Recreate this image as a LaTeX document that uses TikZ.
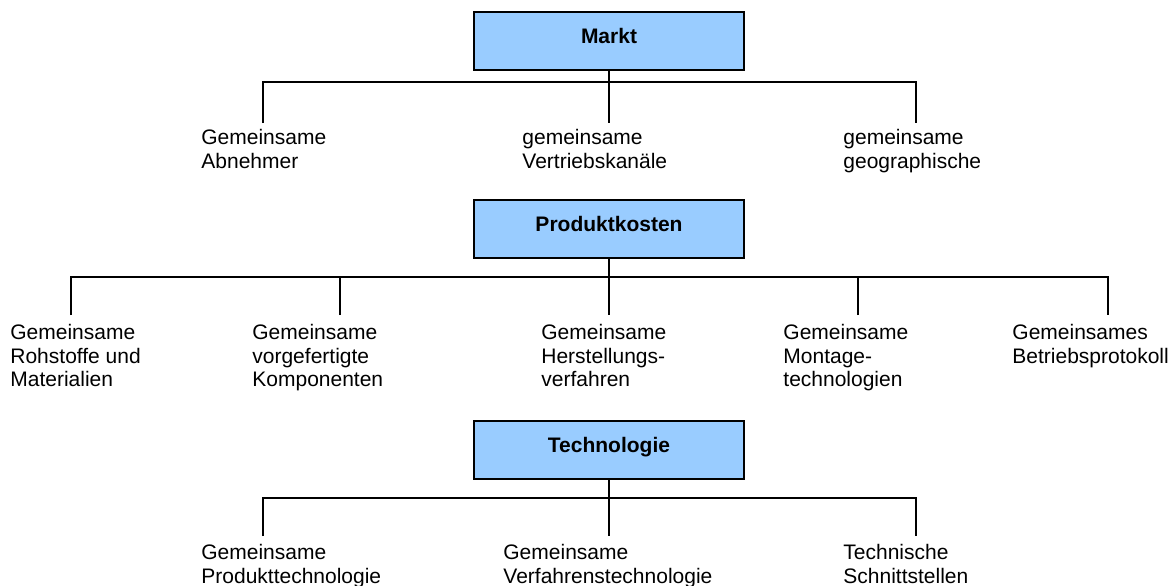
\documentclass[tikz,border=0pt]{standalone}
\usepackage{fontspec}
\setmainfont{Liberation Sans}
\usepackage{tikz}
\usetikzlibrary{positioning,calc}
\usepackage{xcolor}
\definecolor{BoxBlue}{RGB}{153,204,255}

\begin{document}
\begin{tikzpicture}[x=0.5pt,y=-0.5pt,
  head/.style={draw=black,fill=BoxBlue,line width=0.8pt,minimum width=135pt,
      minimum height=29pt,inner sep=0pt,text height=7.6pt,text depth=5.6pt,
      font=\fontsize{10.5}{11.8}\selectfont\bfseries},
  item/.style={anchor=north west,inner sep=0pt,align=left,
      font=\fontsize{10.5}{11.8}\selectfont\strut},
  branch/.style={line width=0.8pt,black}]
\useasboundingbox (0,0) rectangle (1171,585);

% Markt
\node[head] (markt) at (609,41) {Markt};
\node[item] (abnehmer) at (201,129) {Gemeinsame\\Abnehmer};
\node[item] (vertrieb) at (522,129) {gemeinsame\\Vertriebskanäle};
\node[item] (geo) at (843,129) {gemeinsame\\geographische};
\coordinate (mbar) at (609,82);
\coordinate (abnehmer-end) at (263,123);
\coordinate (vertrieb-end) at (609,123);
\coordinate (geo-end) at (916,123);
\draw[branch] (markt.south) -- (mbar);
\draw[branch] (abnehmer-end) |- (mbar) -| (geo-end);
\draw[branch] (mbar) -- (vertrieb-end);

% Produktkosten
\node[head] (kosten) at (609,229) {Produktkosten};
\node[item] (rohstoffe) at (10,324) {Gemeinsame\\Rohstoffe und\\Materialien};
\node[item] (komponenten) at (252,324) {Gemeinsame\\vorgefertigte\\Komponenten};
\node[item] (herstellung) at (541,324) {Gemeinsame\\Herstellungs-\\verfahren};
\node[item] (montage) at (783,324) {Gemeinsame\\Montage-\\technologien};
\node[item] (betrieb) at (1012,324) {Gemeinsames\\Betriebsprotokoll};
\coordinate (kbar) at (609,277);
\coordinate (rohstoffe-end) at (71,315);
\coordinate (komponenten-end) at (340,315);
\coordinate (herstellung-end) at (609,315);
\coordinate (montage-end) at (858,315);
\coordinate (betrieb-end) at (1108,315);
\draw[branch] (kosten.south) -- (kbar);
\draw[branch] (rohstoffe-end) |- (kbar) -| (betrieb-end);
\draw[branch] (komponenten-end) -- (komponenten-end |- kbar);
\draw[branch] (kbar) -- (herstellung-end);
\draw[branch] (montage-end) -- (montage-end |- kbar);

% Technologie
\node[head] (technik) at (609,450) {Technologie};
\node[item] (produkt) at (201,544) {Gemeinsame\\Produkttechnologie};
\node[item] (verfahren) at (503,544) {Gemeinsame\\Verfahrenstechnologie};
\node[item] (schnitt) at (843,544) {Technische\\Schnittstellen};
\coordinate (tbar) at (609,498);
\coordinate (produkt-end) at (263,536);
\coordinate (verfahren-end) at (609,536);
\coordinate (schnitt-end) at (916,536);
\draw[branch] (technik.south) -- (tbar);
\draw[branch] (produkt-end) |- (tbar) -| (schnitt-end);
\draw[branch] (tbar) -- (verfahren-end);
\end{tikzpicture}
\end{document}
